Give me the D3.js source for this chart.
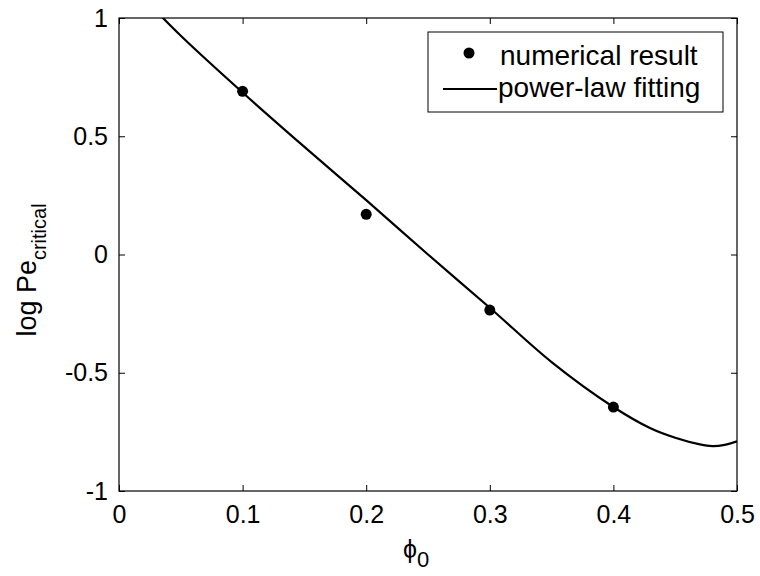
<!DOCTYPE html>
<html>
<head>
<meta charset="utf-8">
<script src="https://cdn.jsdelivr.net/npm/d3@7"></script>
<style>
  html, body { margin: 0; padding: 0; background: #fff; }
  text { font-family: "Liberation Sans", Arial, sans-serif; fill: #000; }
</style>
</head>
<body>
<svg id="chart" width="760" height="576"></svg>
<script>
// ---- data ----
const pointPhi = [0.1, 0.2, 0.3, 0.4];
const pointLogPe = [0.69, 0.17, -0.235, -0.645];

const fitPhi = [0.03, 0.05, 0.1, 0.15, 0.2, 0.25, 0.3, 0.35, 0.4, 0.43, 0.45, 0.47, 0.48, 0.49, 0.5];
const fitLogPe = [1.03, 0.925, 0.685, 0.455, 0.23, 0.0, -0.225, -0.455, -0.645, -0.735, -0.775, -0.803, -0.81, -0.805, -0.79];

const xTicks = [0, 0.1, 0.2, 0.3, 0.4, 0.5];
const yTicks = [-1, -0.5, 0, 0.5, 1];
const legendLabels = ["numerical result", "power-law fitting"];

// ---- layout ----
const L = 119, R = 737, T = 18, B = 491;
const svg = d3.select("#chart");
const x = d3.scaleLinear().domain([0, 0.5]).range([L, R]);
const y = d3.scaleLinear().domain([-1, 1]).range([B, T]);

svg.append("defs").append("clipPath").attr("id", "clip")
  .append("rect").attr("x", L).attr("y", T).attr("width", R - L).attr("height", B - T);

// axes
const fmt = d => String(d);
const gB = svg.append("g").attr("transform", `translate(0,${B})`)
  .call(d3.axisBottom(x).tickValues(xTicks).tickFormat(fmt).tickSizeInner(-6).tickSizeOuter(0).tickPadding(14));
const gT = svg.append("g").attr("transform", `translate(0,${T})`)
  .call(d3.axisTop(x).tickValues(xTicks).tickFormat("").tickSizeInner(-6).tickSizeOuter(0));
const gL = svg.append("g").attr("transform", `translate(${L},0)`)
  .call(d3.axisLeft(y).tickValues(yTicks).tickFormat(fmt).tickSizeInner(-6).tickSizeOuter(0).tickPadding(11));
const gR = svg.append("g").attr("transform", `translate(${R},0)`)
  .call(d3.axisRight(y).tickValues(yTicks).tickFormat("").tickSizeInner(-6).tickSizeOuter(0));

[gB, gT, gL, gR].forEach(g => {
  g.select(".domain").remove();
  g.selectAll(".tick line").attr("stroke", "#000").attr("stroke-width", 1);
  g.selectAll("text").attr("font-size", 25).attr("font-family", "'Liberation Sans', Arial, sans-serif").attr("fill", "#000");
});

svg.append("rect").attr("x", L).attr("y", T).attr("width", R - L).attr("height", B - T)
  .attr("fill", "none").attr("stroke", "#000").attr("stroke-width", 1.2);

// fit line
const fitData = fitPhi.map((p, i) => [p, fitLogPe[i]]);
svg.append("path").datum(fitData)
  .attr("clip-path", "url(#clip)")
  .attr("fill", "none").attr("stroke", "#000").attr("stroke-width", 2.2)
  .attr("d", d3.line().x(d => x(d[0])).y(d => y(d[1])).curve(d3.curveCatmullRom));

// points
svg.append("g").selectAll("circle").data(pointPhi).join("circle")
  .attr("cx", d => x(d)).attr("cy", (d, i) => y(pointLogPe[i])).attr("r", 5.5).attr("fill", "#000");

// legend
const lg = svg.append("g");
lg.append("rect").attr("x", 428).attr("y", 32).attr("width", 295).attr("height", 80)
  .attr("fill", "#fff").attr("stroke", "#000").attr("stroke-width", 1);
lg.append("circle").attr("cx", 469).attr("cy", 53).attr("r", 5.5).attr("fill", "#000");
lg.append("line").attr("x1", 443).attr("x2", 497).attr("y1", 89).attr("y2", 89)
  .attr("stroke", "#000").attr("stroke-width", 2.2);
lg.append("text").attr("x", 500).attr("y", 65).attr("font-size", 28).text(legendLabels[0]);
lg.append("text").attr("x", 498).attr("y", 97).attr("font-size", 28).text(legendLabels[1]);

// x title
const xt = svg.append("text").attr("x", 403).attr("y", 558).attr("font-size", 25);
xt.append("tspan").text("ϕ");
xt.append("tspan").attr("dy", 9).attr("font-size", 22).text("0");

// y title
const yt = svg.append("text").attr("transform", "translate(36,270) rotate(-90)")
  .attr("text-anchor", "middle").attr("font-size", 27);
yt.append("tspan").text("log Pe");
yt.append("tspan").attr("dy", 10).attr("font-size", 20).text("critical");
</script>
</body>
</html>
